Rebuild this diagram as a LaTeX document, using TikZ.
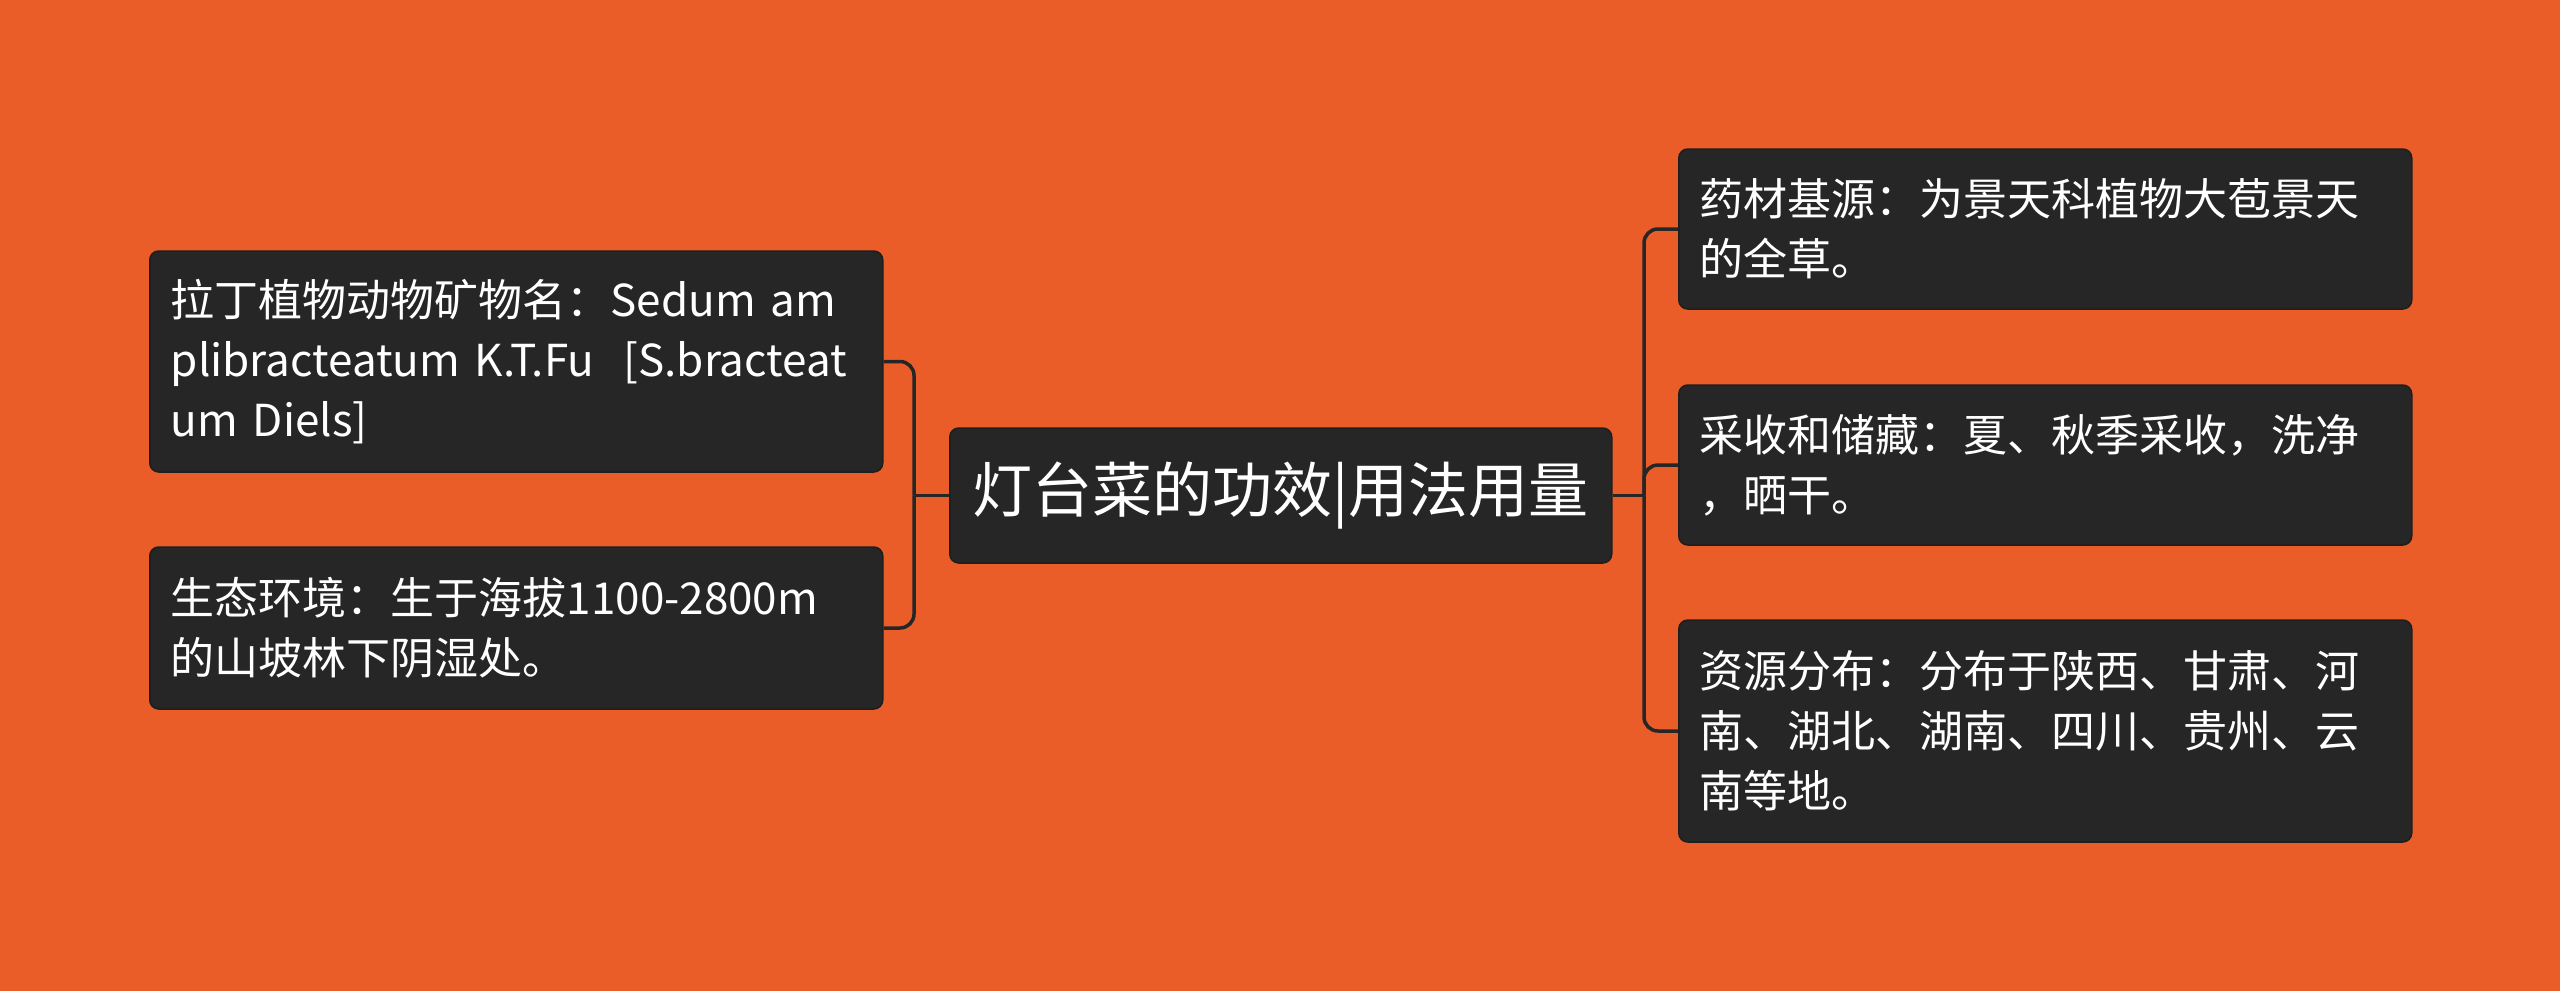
\documentclass[tikz,border=0pt]{standalone}
\usepackage{fontspec}
\setmainfont{Noto Sans CJK SC}
\definecolor{bg}{HTML}{EA5D29}
\definecolor{boxc}{HTML}{262626}
\definecolor{edgec}{HTML}{1E1E1E}
\begin{document}
\begin{tikzpicture}[x=1pt,y=-1pt,
  topic/.style={fill=boxc,draw=edgec,line width=1.5pt,rounded corners=9pt,text=white,
    anchor=west,align=left,text width=691pt,inner xsep=21pt,inner ysep=0pt,
    font=\fontsize{44}{60}\selectfont},
  maintopic/.style={fill=boxc,draw=edgec,line width=1.5pt,rounded corners=9pt,text=white,
    anchor=west,align=center,minimum width=662pt,minimum height=135pt,inner sep=0pt,
    font=\fontsize{60}{70}\selectfont},
  conn/.style={draw=boxc,line width=3.5pt,rounded corners=14pt}]
\fill[bg] (0,0) rectangle (2560,991);
\useasboundingbox (0,0) rectangle (2560,991);

\node[maintopic] (c) at (949,495.5) {灯台菜的功效|用法用量};

\node[topic,minimum height=221pt] (l1) at (149,361.5) {拉丁植物动物矿物名：Sedum am\\plibracteatum K.T.Fu\ \ [S.bracteat\\um Diels]};
\node[topic,minimum height=162pt] (l2) at (149,628) {生态环境：生于海拔1100-2800m\\的山坡林下阴湿处。};

\node[topic,minimum height=160pt] (r1) at (1678,229) {药材基源：为景天科植物大苞景天\\的全草。};
\node[topic,minimum height=160pt] (r2) at (1678,465) {采收和储藏：夏、秋季采收，洗净\\，晒干。};
\node[topic,minimum height=222pt] (r3) at (1678,731) {资源分布：分布于陕西、甘肃、河\\南、湖北、湖南、四川、贵州、云\\南等地。};

\coordinate (lj) at (914,495.5);
\coordinate (rj) at (1644,495.5);

\draw[conn] (c.west) -- (lj);
\draw[conn] (l1.east) -| (lj);
\draw[conn] (l2.east) -| (lj);
\draw[conn] (c.east) -- (rj);
\draw[conn] (rj) |- (r1.west);
\draw[conn] (rj) |- (r2.west);
\draw[conn] (rj) |- (r3.west);
\end{tikzpicture}
\end{document}
